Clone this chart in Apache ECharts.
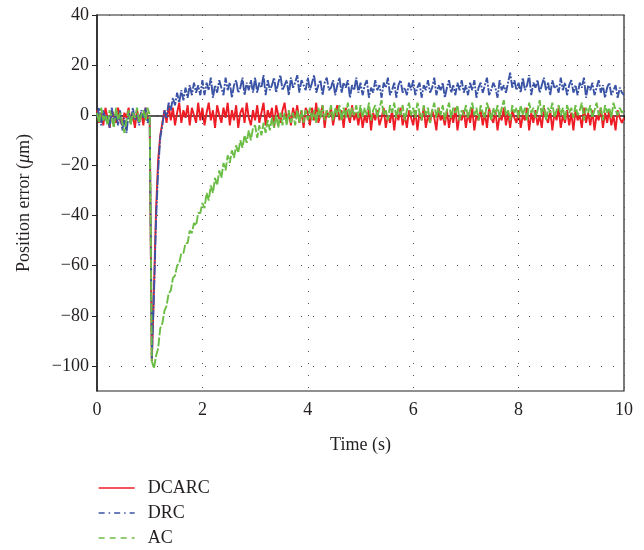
<!DOCTYPE html>
<html>
<head>
<meta charset="utf-8">
<script src="https://cdn.jsdelivr.net/npm/echarts@6/dist/echarts.min.js"></script>
<style>html,body{margin:0;padding:0;background:#fff}#c{width:644px;height:550px}</style>
</head>
<body>
<div id="c"></div>
<script>
// sample step (s); samples at 0, 0.04, ..., 10
const dt = 0.04;
const yTicks = [-100, -80, -60, -40, -20, 0, 20, 40];
const xTicks = [0, 2, 4, 6, 8, 10];
const seriesNames = ['DCARC', 'DRC', 'AC'];

const dcarc = [
 2,-3,1,-4,3,-1,-5,2,0,-3,3,-2,-4,1,-1,3,-3,0,-5,2,-2,1,-4,3,-1,
 -2,-98,-70,-38,-18,-8,-3,2,-3,4,-2,3,-4,1,5,-3,2,-1,4,-4,3,0,-3,5,-2,
 3,-4,1,5,-2,2,-5,4,0,-3,3,-1,5,-4,2,-2,4,-5,1,3,-3,5,-1,-4,2,
 -2,4,-3,1,5,-4,2,-1,3,-5,4,0,-3,2,5,-2,1,-4,3,-1,4,-3,2,-5,3,
 1,-4,3,-2,5,-3,0,4,-5,2,-1,3,-4,1,4,-2,2,-5,3,0,-3,4,-2,1,-4,
 2,-5,0,-3,3,-6,1,-2,2,-4,-1,3,-5,0,-3,2,-6,1,-2,3,-4,0,-5,2,-1,
 -4,2,-6,1,-2,3,-5,0,-3,2,-1,-6,3,-2,0,-4,2,-5,1,-3,3,-6,0,-2,2,
 -5,1,-3,3,-6,0,-2,2,-4,1,-5,3,-1,-3,2,-6,0,-2,3,-4,1,-5,2,-1,-3,
 2,-5,0,-2,3,-6,1,-3,2,-4,0,-5,3,-1,-3,2,-6,1,-2,3,-5,0,-3,2,-4,
 1,-6,2,-2,0,-5,3,-3,1,-4,2,-6,0,-2,3,-5,1,-3,2,-4,0,-6,2,-1,-3,
 -1
];
const drc = [
 -1,3,-4,2,-2,0,-5,3,-3,1,-4,2,-6,-1,-7,1,-3,3,-2,0,-4,2,-1,3,-3,
 -1,-97,-72,-42,-22,-9,-4,2,-1,5,2,7,4,9,5,10,6,11,7,12,8,13,9,12,8,
 14,8,13,10,15,7,12,9,14,11,8,15,10,13,7,12,14,9,11,15,8,13,10,14,9,
 15,9,13,11,16,8,14,10,12,15,9,13,16,10,12,14,8,15,11,13,16,9,14,12,10,
 15,10,13,16,9,12,14,8,13,15,10,11,14,8,12,15,9,13,11,14,7,12,10,15,9,
 13,8,12,14,7,11,9,14,10,12,7,13,11,15,8,10,13,7,12,14,9,11,8,13,10,
 14,8,11,13,7,12,10,14,9,11,15,8,12,10,13,7,11,14,9,12,8,13,10,14,9,
 12,8,13,10,14,7,11,13,9,12,15,8,10,13,11,7,14,10,12,9,13,17,11,14,10,
 13,9,15,10,12,16,8,13,11,14,9,12,15,10,13,8,14,11,12,9,15,10,13,8,12,
 14,9,12,8,13,11,15,7,12,10,13,8,11,14,9,12,7,11,13,8,10,12,7,11,9,
 8
];
const ac = [
 1,-3,3,-2,0,-4,2,-1,-5,3,-2,1,-3,-7,-2,2,-4,1,-1,3,-3,0,2,-2,3,
 0,-98,-101,-96,-93,-85,-83,-78,-76,-71,-70,-65,-64,-60,-59,-55,-55,-51,-51,-46,-47,-43,-44,-39,-39,
 -35,-37,-31,-34,-28,-31,-25,-28,-22,-25,-19,-22,-16,-19,-14,-17,-12,-15,-10,-13,-8,-11,-6,-10,-5,
 -4,-9,-4,-8,-3,-7,-2,-6,-1,-5,0,-5,1,-4,1,-4,2,-3,1,-4,2,-3,2,-3,2,
 -2,3,-2,2,-3,3,-1,4,-2,2,-1,4,-2,3,0,4,-2,3,-1,5,-1,3,0,4,-1,
 4,-1,3,0,5,-2,2,4,-1,3,6,0,2,-2,4,1,5,-1,3,0,4,-2,2,5,0,
 3,-1,5,1,-2,4,0,3,-3,2,5,-1,3,0,4,-2,2,5,-1,3,1,4,-2,2,0,
 4,-1,2,5,0,3,-2,4,1,-1,5,2,-2,3,0,4,-1,3,6,0,2,-2,4,1,3,
 -1,4,0,3,-2,5,1,3,-1,2,6,0,4,-2,3,1,5,-1,2,4,0,3,-2,4,1,
 3,-1,4,0,2,5,-2,3,1,4,-1,2,5,0,3,-2,4,1,3,-1,5,2,0,3,1,
 2
];

const pair = arr => arr.map((v, i) => [Math.round(i * dt * 100) / 100, v]);
const font = '"Liberation Serif", "DejaVu Serif", serif';
const txt = '#231f20';
const gridLine = { show: true, lineStyle: { color: '#555', width: 1, type: [1, 11] } };
const colors = ['#ee1c25', '#3a53a4', '#6cbd45'];

const chart = echarts.init(document.getElementById('c'), null, { renderer: 'canvas' });
chart.setOption({
  animation: false,
  backgroundColor: '#fff',
  textStyle: { fontFamily: font },
  grid: { left: 97, right: 20, top: 15, bottom: 159, show: true, borderColor: '#222', borderWidth: 1.2, backgroundColor: 'transparent' },
  legend: {
    orient: 'vertical', left: 98, top: 479, height: 71, padding: 0, itemWidth: 36, itemHeight: 14, itemGap: 7,
    itemStyle: { opacity: 0 },
    textStyle: { fontFamily: font, fontSize: 18, lineHeight: 18, color: txt, padding: [0, 0, 0, 8] },
    data: [
      { name: 'DCARC', lineStyle: { width: 1.3, type: 'solid' } },
      { name: 'DRC', lineStyle: { width: 1.3, type: [6, 4, 1.5, 4] } },
      { name: 'AC', lineStyle: { width: 1.3, type: [6, 5] } }
    ]
  },
  xAxis: {
    type: 'value', min: 0, max: 10, interval: 2,
    name: 'Time (s)', nameLocation: 'middle', nameGap: 45,
    nameTextStyle: { fontFamily: font, fontSize: 18, color: txt },
    axisLine: { lineStyle: { color: '#222', width: 1.5 } },
    axisTick: { length: 5, lineStyle: { color: '#222' } },
    axisLabel: { fontFamily: font, fontSize: 18, color: txt, margin: 10, customValues: xTicks },
    splitLine: gridLine
  },
  yAxis: {
    type: 'value', min: -110, max: 40,
    name: 'Position error ({i|μ}m)', nameLocation: 'middle', nameGap: 64,
    nameTextStyle: { fontFamily: font, fontSize: 18, color: txt, rich: { i: { fontFamily: font, fontSize: 18, fontStyle: 'italic', color: txt } } },
    axisLine: { show: true, lineStyle: { color: '#222', width: 1.5 } },
    axisTick: { show: true, length: 5, lineStyle: { color: '#222' }, customValues: yTicks },
    axisLabel: { fontFamily: font, fontSize: 18, color: txt, margin: 8, customValues: yTicks,
      formatter: v => (v < 0 ? '\u2212' + Math.abs(v) : String(v)) },
    splitLine: Object.assign({ customValues: yTicks }, gridLine)
  },
  series: [
    { name: 'DCARC', type: 'line', data: pair(dcarc), symbol: 'none', showSymbol: false, color: colors[0],
      lineStyle: { width: 1.9, color: colors[0] } },
    { name: 'DRC', type: 'line', data: pair(drc), symbol: 'none', showSymbol: false, color: colors[1],
      lineStyle: { width: 1.9, color: colors[1], type: [10, 1.5, 2, 1.5] } },
    { name: 'AC', type: 'line', data: pair(ac), symbol: 'none', showSymbol: false, color: colors[2],
      lineStyle: { width: 1.9, color: colors[2], type: [9, 2] } }
  ]
});
</script>
</body>
</html>
